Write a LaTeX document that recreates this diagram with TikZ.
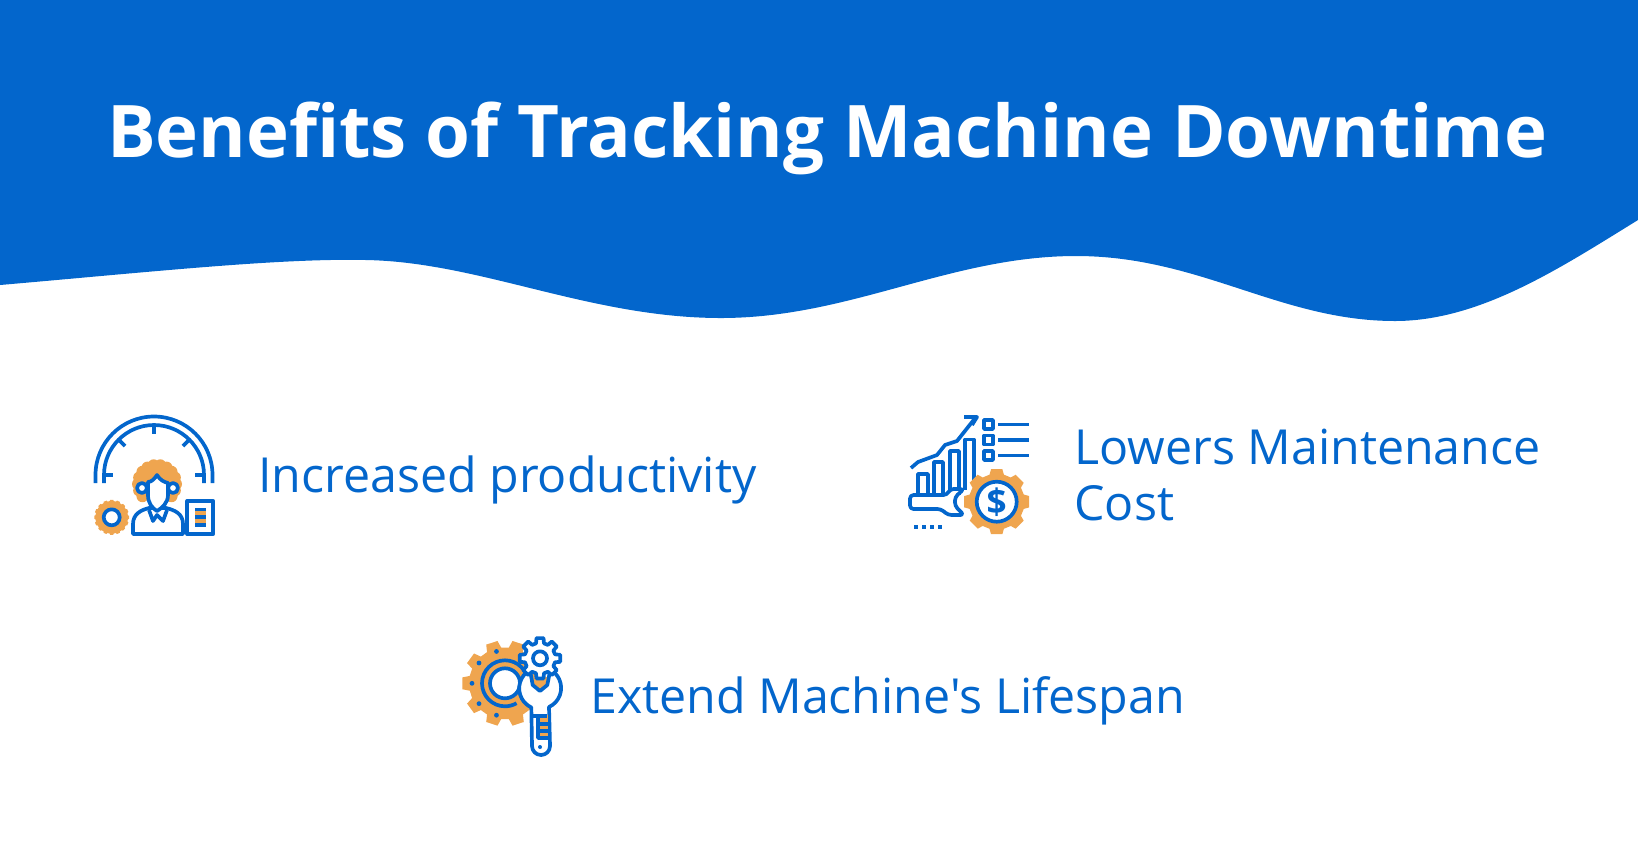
\documentclass[tikz,border=0pt]{standalone}
\usepackage{fontspec}
\usetikzlibrary{calc}
\setmainfont{Open Sans}[Ligatures=TeXOff]
\definecolor{wavyblue}{HTML}{0366CC}
\definecolor{gearorange}{HTML}{EFA54F}
\newcommand{\gearshape}[6]{
\pgfmathsetmacro{\gstep}{360/#6}
\draw[#1,shift={(#2,#3)}] (0.33*\gstep:#5)
\foreach \k [evaluate=\k as \a using \k*\gstep] in {1,...,#6}{
-- (\a-0.33*\gstep:#5) -- (\a-0.22*\gstep:#4) -- (\a+0.22*\gstep:#4) -- (\a+0.33*\gstep:#5)
} -- cycle;
}

\begin{document}
\begin{tikzpicture}[x=0.02cm,y=-0.02cm]
\tikzset{iconline/.style = {draw=wavyblue, line width=2.1pt, line join=round}}
\tikzset{orangefill/.style = {fill=gearorange, draw=none}}
\tikzset{caption/.style = {text=wavyblue, font=\fontsize{27.5}{31.7}\selectfont, anchor=west, align=left, inner sep=0pt}}

\useasboundingbox (0,0) rectangle (1638,860);

\fill[wavyblue] (0,285) .. controls (150,272) and (280,258) .. (366,260)
.. controls (480,262) and (590,318) .. (721,318)
.. controls (850,318) and (950,256) .. (1076,256)
.. controls (1200,256) and (1280,321) .. (1395,321)
.. controls (1480,321) and (1560,268) .. (1638,220)
-- (1638,0) -- (0,0) -- cycle;

\node[text=white, font=\fontsize{41.3}{50}\selectfont\bfseries] (title) at (827,138) {Benefits of Tracking Machine Downtime};

\node[caption] (productivity) at (258,480) {Increased productivity};
\node[caption] (maintenance) at (1074,475) {Lowers Maintenance\\Cost};
\node[caption] (lifespan) at (590,701) {Extend Machine's Lifespan};

% first icon
\draw[iconline] (95.5,483) -- (95.5,475) arc (180:360:58.5) -- (212.5,483);
\draw[iconline] (104,483) -- (104,475) arc (180:360:50) -- (204,483);
\foreach \a in {180,225,270,315,360}{
\draw[iconline,shift={(154,475)}] (\a:50) -- (\a:41);
}
\foreach \a in {140,160,...,400}{
\fill[gearorange] ($(157,484)+(\a:19)$) circle (6);
}
\fill[gearorange] (157,484) ellipse (21 and 14);
\draw[iconline,fill=white] (142,488) circle (5);
\draw[iconline,fill=white] (173,488) circle (5);
\draw[iconline,fill=white] (133,534) -- (133,524) .. controls (133,514) and (141,510) .. (149,508) -- (166,508) .. controls (175,510) and (183,514) .. (183,524) -- (183,534) -- cycle;
\draw[iconline,fill=white] (148,482) .. controls (152,482) and (155,478) .. (157,475) .. controls (160,480) and (164,482) .. (168,483) -- (168,495) .. controls (168,503) and (162,508) .. (157,511) .. controls (152,508) and (148,503) .. (148,495) -- cycle;
\draw[iconline] (149,510) -- (153,521) -- (157,515) -- (163,521) -- (167,510);
\gearshape{orangefill}{111.7}{517.3}{17.5}{16.3}{16}
\draw[iconline,fill=white] (111.7,517.3) circle (8);
\draw[iconline] (187.3,501) rectangle (213.3,534);
\fill[gearorange] (195,509) rectangle (206,525);
\foreach \y in {509.5,517.3,525}{
\draw[iconline] (195,\y) -- (206,\y);
}

% second icon
\draw[iconline] (918,495) -- (918,474) -- (928,474) -- (928,495);
\draw[iconline] (934,495) -- (934,462) -- (943,462) -- (943,495);
\draw[iconline] (950,495) -- (950,451) -- (959,451) -- (959,495);
\draw[iconline] (965,490) -- (965,439.5) -- (974,439.5) -- (974,485);
\draw[iconline] (911,468) -- (918,462) -- (937,455) -- (945,445) -- (957,441) -- (976,417);
\draw[iconline] (964,417) -- (977,417) -- (972,425);
\draw[iconline,fill=white,rounded corners=2pt] (947,495) -- (910,495) -- (910,509) -- (941,509) -- (948,515) -- (964,515) -- (955,506) -- (955,497) -- (964,489) -- (950,489) -- cycle;
\foreach \x in {914,922,930,938}{
\fill[wavyblue] (\x,525) rectangle ++(4,4);
}
\foreach \y in {424.5,440,455.5}{
\draw[iconline] (984,\y-4.5) rectangle (993,\y+4.5);
\draw[iconline] (998,\y) -- (1029,\y);
}
\gearshape{orangefill}{996.7}{501.7}{33}{28}{8}
\draw[iconline,fill=white] (996.7,501.7) circle (20);
\node[text=wavyblue, font=\fontsize{20}{20}\selectfont\bfseries] (dollar) at (996.7,501.7) {\$};

% third icon
\gearshape{orangefill}{505}{683.3}{43}{36}{10}
\draw[iconline] (528,683.3) arc (0:-300:23);
\draw[iconline,fill=white] (505,683.3) circle (15);
\foreach \a in {-75,-38,0,38,75}{
\fill[wavyblue,shift={(505,683.3)}] (180+\a:33) circle (2.4);
}
\draw[iconline,fill=white] (530,670) arc (241:115:21) -- (532,746) arc (180:0:9) -- (549,707) arc (65:-61:21) -- (547.3,685) -- (540,691) -- (532.7,685) -- cycle;
\fill[gearorange] (540,715) rectangle (548,740);
\draw[iconline] (533,716) -- (547,716);
\draw[iconline] (538,716) -- (538,738) -- (549,738);
\draw[iconline] (538,724) -- (549,724);
\draw[iconline] (538,731) -- (549,731);
\fill[wavyblue] (540,747) circle (2);
\gearshape{iconline,fill=white}{540}{658.3}{20.5}{15.5}{8}
\draw[iconline,fill=white] (540,658.3) circle (7);

\end{tikzpicture}
\end{document}
